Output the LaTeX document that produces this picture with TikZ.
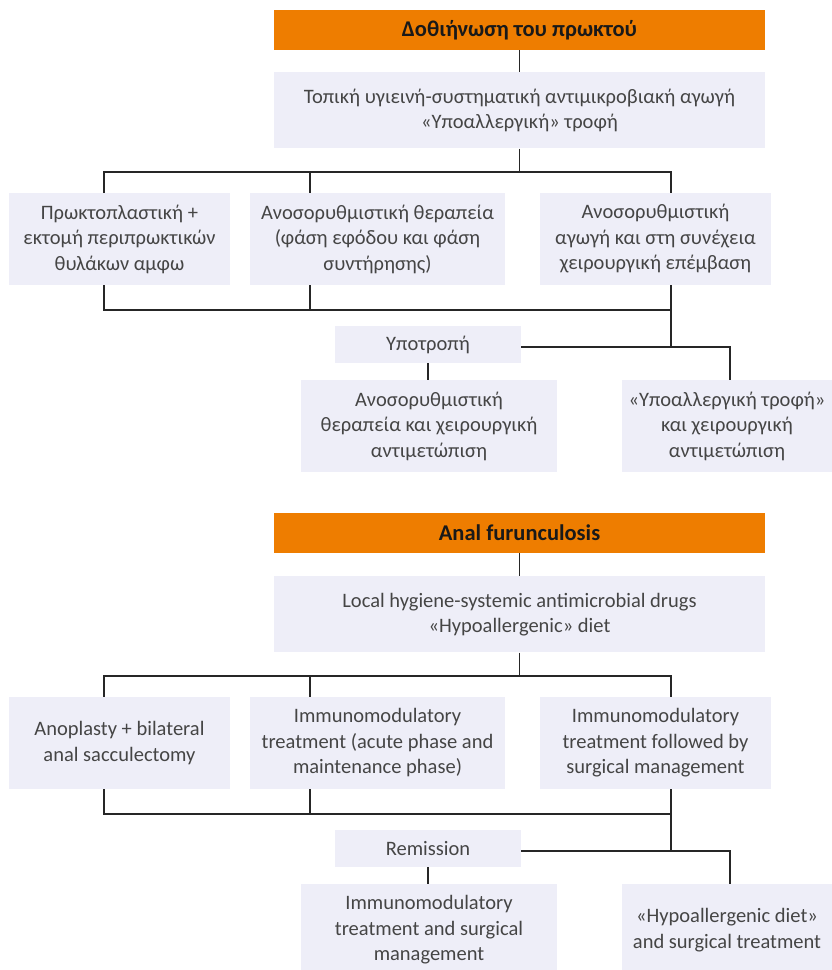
\documentclass[tikz,border=0pt]{standalone}
\usepackage{fontspec}
\setmainfont{Carlito}
\usepackage{xcolor}
\usetikzlibrary{positioning}
\definecolor{hdrorange}{HTML}{EE7D00}
\definecolor{boxfill}{HTML}{EEEEF8}
\definecolor{txtgray}{HTML}{454545}
\tikzstyle{hdr} = [rectangle, fill=hdrorange, text=black!90, font=\bfseries\fontsize{22.5}{26}\selectfont, minimum width=491pt, minimum height=40pt, inner sep=0pt]
\tikzstyle{pbox} = [rectangle, fill=boxfill, text=txtgray, font=\fontsize{20.5}{25.5}\selectfont, align=center, inner sep=0pt]
\tikzstyle{conn} = [draw=black!85, line width=1.2pt]

\begin{document}
\begin{tikzpicture}[x=1pt,y=-1pt]
  \useasboundingbox (0,0) rectangle (832,970);

  % Greek chart
  \node[hdr] (gHead) at (519.5,30) {Δοθιήνωση του πρωκτού};
  \node[pbox, minimum width=491pt, minimum height=76pt] (gHyg) [below=22pt of gHead] {Τοπική υγιεινή-συστηματική αντιμικροβιακή αγωγή\\«Υποαλλεργική» τροφή};
  \node[pbox, minimum width=221pt, minimum height=92pt] (gA) at (119.5,239) {Πρωκτοπλαστική +\\εκτομή περιπρωκτικών\\θυλάκων αμφω};
  \node[pbox, minimum width=255pt, minimum height=92pt] (gB) at (377.5,239) {Ανοσορυθμιστική θεραπεία\\(φάση εφόδου και φάση\\συντήρησης)};
  \node[pbox, minimum width=231pt, minimum height=92pt] (gC) at (655.5,239) {Ανοσορυθμιστική\\αγωγή και στη συνέχεια\\χειρουργική επέμβαση};
  \node[pbox, minimum width=186pt, minimum height=37pt] (gRel) at (428,344.5) {Υποτροπή};
  \node[pbox, minimum width=256pt, minimum height=92pt] (gD) at (429,426) {Ανοσορυθμιστική\\θεραπεία και χειρουργική\\αντιμετώπιση};
  \node[pbox, minimum width=210pt, minimum height=92pt] (gE) at (727,426) {«Υποαλλεργική τροφή»\\και χειρουργική\\αντιμετώπιση};

  \coordinate (gT1) at (104,172);
  \coordinate (gT3) at (671,172);
  \coordinate (gB1) at (104,310);
  \coordinate (gB3) at (671,310);
  \coordinate (gR3) at (671,347);
  \coordinate (gR4) at (730,347);

  \draw[conn] (gHead) -- (gHyg);
  \draw[conn] (gHyg.south) -- (gHyg.south |- gT1);
  \draw[conn] (gT1 |- gA.north) -- (gT1) -- (gT3) -- (gT3 |- gC.north);
  \draw[conn] (310,172) -- (310,172 |- gB.north);
  \draw[conn] (gB1 |- gA.south) -- (gB1) -- (gB3);
  \draw[conn] (310,310 |- gB.south) -- (310,310);
  \draw[conn] (gB3 |- gC.south) -- (gR3);
  \draw[conn] (gRel.east |- gR4) -- (gR4) -- (gR4 |- gE.north);
  \draw[conn] (gRel.south) -- (gRel.south |- gD.north);

  % English chart
  \begin{scope}[yshift=-504pt]
  \node[hdr] (eHead) at (519.5,29) {Anal furunculosis};
  \node[pbox, minimum width=491pt, minimum height=76pt] (eHyg) [below=23pt of eHead] {Local hygiene-systemic antimicrobial drugs\\«Hypoallergenic» diet};
  \node[pbox, minimum width=221pt, minimum height=92pt] (eA) at (119.5,239) {Anoplasty + bilateral\\anal sacculectomy};
  \node[pbox, minimum width=255pt, minimum height=92pt] (eB) at (377.5,239) {Immunomodulatory\\treatment (acute phase and\\maintenance phase)};
  \node[pbox, minimum width=231pt, minimum height=92pt] (eC) at (655.5,239) {Immunomodulatory\\treatment followed by\\surgical management};
  \node[pbox, minimum width=186pt, minimum height=37pt] (eRel) at (428,344.5) {Remission};
  \node[pbox, minimum width=256pt, minimum height=92pt] (eD) at (429,426) {Immunomodulatory\\treatment and surgical\\management};
  \node[pbox, minimum width=210pt, minimum height=92pt] (eE) at (727,426) {«Hypoallergenic diet»\\and surgical treatment};

  \coordinate (eT1) at (104,172);
  \coordinate (eT3) at (671,172);
  \coordinate (eB1) at (104,310);
  \coordinate (eB3) at (671,310);
  \coordinate (eR3) at (671,347);
  \coordinate (eR4) at (730,347);

  \draw[conn] (eHead) -- (eHyg);
  \draw[conn] (eHyg.south) -- (eHyg.south |- eT1);
  \draw[conn] (eT1 |- eA.north) -- (eT1) -- (eT3) -- (eT3 |- eC.north);
  \draw[conn] (310,172) -- (310,172 |- eB.north);
  \draw[conn] (eB1 |- eA.south) -- (eB1) -- (eB3);
  \draw[conn] (310,310 |- eB.south) -- (310,310);
  \draw[conn] (eB3 |- eC.south) -- (eR3);
  \draw[conn] (eRel.east |- eR4) -- (eR4) -- (eR4 |- eE.north);
  \draw[conn] (eRel.south) -- (eRel.south |- eD.north);
  \end{scope}
\end{tikzpicture}
\end{document}
